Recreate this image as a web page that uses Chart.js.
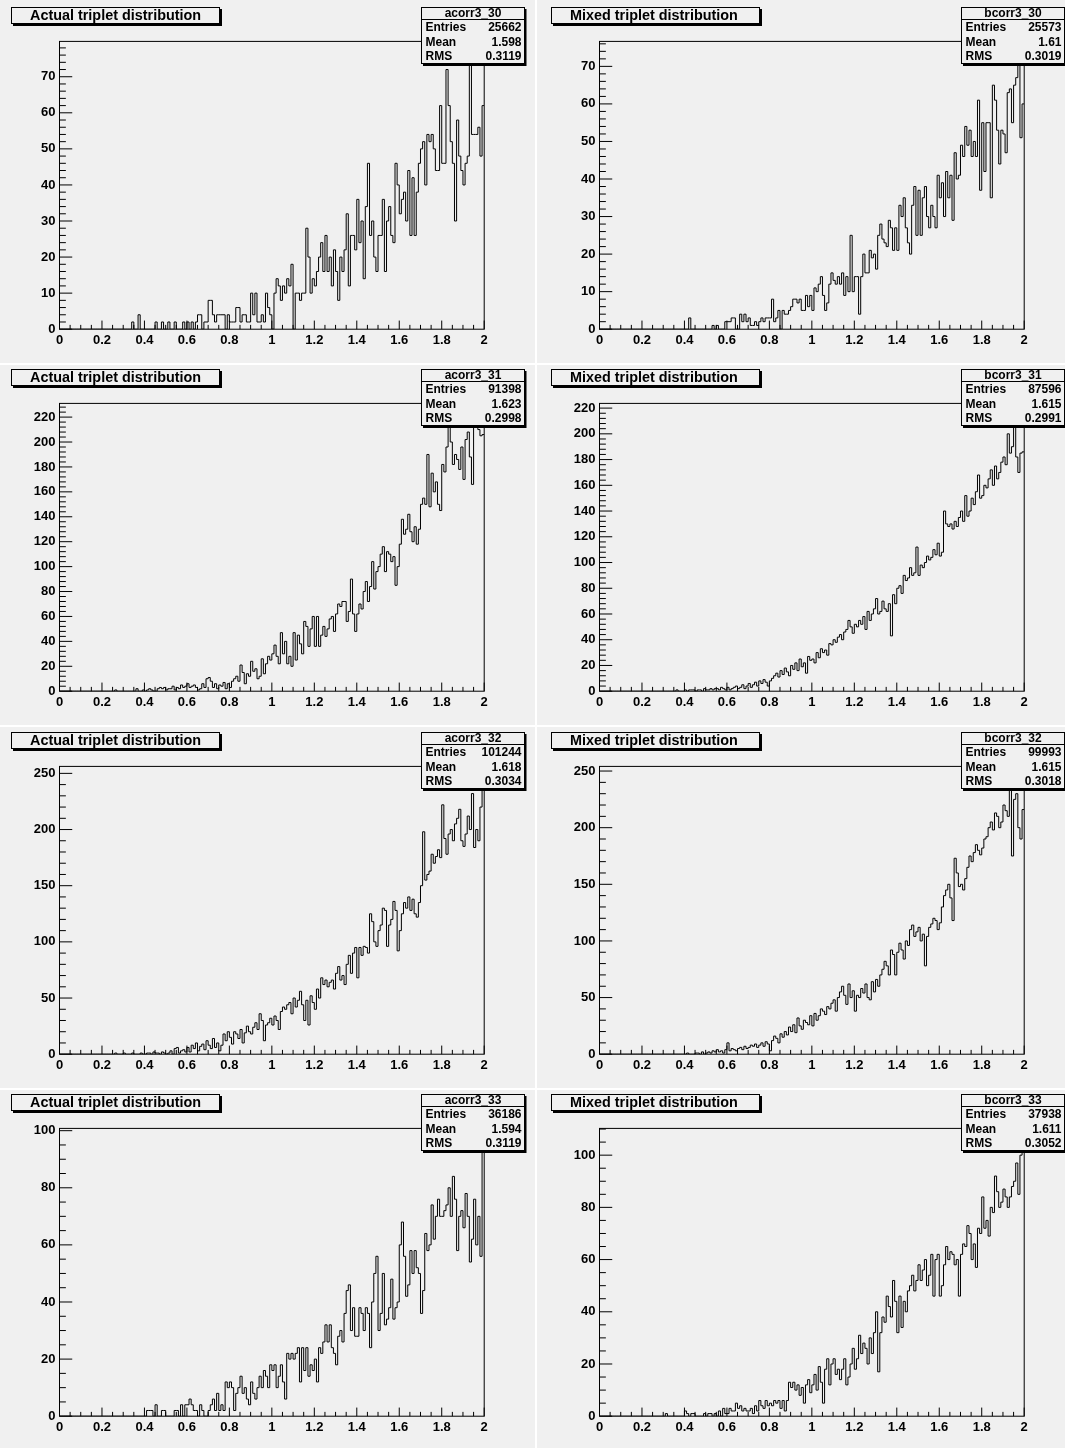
<!DOCTYPE html>
<html><head><meta charset="utf-8">
<script src="https://cdn.jsdelivr.net/npm/chart.js@4.4.1/dist/chart.umd.min.js"></script>
<style>
html,body{margin:0;padding:0;background:#fff;}
#page{position:relative;width:1065px;height:1448px;overflow:hidden;background:#fff;}
.pad{position:absolute;background:#f0f0f0;}
canvas{position:absolute;}
</style></head><body><div id="page"></div>
<script>
// ---------------- DATA (200 bins of width 0.01 on [0,2]) ----------------
const acorr3_30 = [
0,0,0,0,0,0,0,0,0,0,0,0,0,0,0,0,0,0,0,0,
0,0,0,0,0,0,0,0,0,0,0,0,0,0,2,0,0,4,0,0,
0,0,0,0,0,2,0,0,2,0,0,2,0,0,2,0,0,0,2,0,
2,0,2,0,2,4,4,0,2,2,8,8,4,2,4,4,4,4,0,4,
2,2,2,6,6,2,4,4,2,2,10,4,10,2,2,4,2,10,6,4,
0,10,14,12,8,12,10,14,12,18,0,10,10,8,10,10,28,20,10,14,
12,16,20,24,16,26,16,20,12,22,16,8,20,16,22,32,12,26,26,22,
36,24,30,14,34,46,26,30,20,16,26,26,36,16,30,34,26,24,46,40,
32,36,38,30,44,26,42,26,38,46,50,52,40,54,52,54,50,44,44,62,
46,46,72,62,52,46,30,58,48,44,40,46,48,76,54,54,54,56,48,62];
const bcorr3_30 = [
0,0,0,0,0,0,0,0,0,0,0,0,0,0,0,0,0,0,0,0,
0,0,0,0,0,0,0,0,0,0,0,0,0,0,0,0,0,0,0,0,
0,0,3,0,0,0,0,0,0,0,0,0,0,1,0,1,0,0,0,2,
2,2,3,3,0,0,4,2,4,2,3,1,1,2,1,2,3,2,3,3,
3,8,2,3,5,0,5,4,4,5,6,8,8,7,8,5,5,9,6,9,
5,11,10,12,14,9,5,7,12,15,13,12,14,12,15,9,14,10,25,10,
14,14,4,14,20,15,15,21,19,20,16,25,28,24,23,22,29,27,21,27,
21,33,30,35,27,23,20,33,38,25,37,25,35,38,30,27,33,30,27,41,
35,39,30,42,35,41,29,47,40,41,49,46,54,49,53,46,50,46,61,37,
55,42,55,55,35,65,61,53,44,53,52,47,63,64,55,65,67,73,51,60];
const acorr3_31 = [
0,0,0,0,0,0,0,0,0,0,0,0,0,0,0,0,0,0,0,0,
0,0,0,0,0,0,1,0,0,0,0,0,0,0,0,0,2,0,0,1,
0,1,2,1,0,0,2,3,2,3,1,2,2,4,1,3,2,5,3,4,
6,3,4,5,3,1,2,6,3,10,11,8,3,6,2,5,4,7,2,6,
3,8,10,12,8,21,15,6,14,12,24,16,18,10,12,26,14,22,28,25,
30,37,28,22,47,30,40,22,28,20,47,25,45,38,30,56,52,36,50,60,
36,60,36,45,52,44,50,58,60,48,62,70,68,72,72,56,64,90,62,48,
62,70,66,80,88,72,84,104,82,96,100,110,116,96,112,110,104,108,85,100,
118,138,126,130,142,128,120,132,118,130,150,155,150,190,148,175,160,168,150,145,
182,176,196,212,200,182,190,186,178,196,170,202,208,188,166,214,220,210,205,206];
const bcorr3_31 = [
0,0,0,0,0,0,0,0,0,0,0,0,0,0,0,0,0,0,0,0,
0,0,0,0,0,0,0,0,0,0,0,0,0,0,0,0,1,0,0,0,
1,0,1,1,1,0,1,1,0,2,1,1,2,1,2,2,1,3,2,1,
3,1,2,3,4,2,3,5,2,4,6,3,5,7,4,8,6,9,7,4,
8,10,12,14,11,16,13,18,15,12,20,17,22,16,25,19,22,14,27,24,
25,22,30,26,33,30,32,28,37,36,40,38,42,44,40,46,48,55,50,45,
52,50,55,52,58,48,62,55,60,64,72,60,62,70,64,62,68,43,75,68,
80,82,76,90,86,88,96,90,92,112,90,98,96,100,105,102,104,110,106,115,
105,108,140,130,128,130,126,132,128,135,140,132,152,136,140,150,145,155,168,150,
152,160,158,165,172,160,175,165,170,178,182,176,200,185,190,213,182,170,185,186];
const acorr3_32 = [
0,0,0,0,0,0,0,0,0,0,0,0,0,0,0,0,0,0,0,0,
0,0,0,0,0,0,1,0,0,0,1,0,0,0,1,0,0,0,1,0,
0,1,1,0,2,1,1,0,2,1,0,1,3,0,5,6,1,3,4,2,
6,2,8,5,10,3,7,9,4,12,8,5,14,6,10,3,8,18,12,20,
15,9,20,18,14,22,10,19,25,20,18,24,28,22,36,30,12,26,28,32,
26,34,30,22,38,42,40,44,46,36,50,42,48,56,44,30,48,26,52,46,
40,58,50,68,62,66,60,64,66,58,72,78,66,70,62,80,88,72,90,95,
68,95,88,96,95,90,125,118,100,96,110,115,130,128,96,115,120,136,128,92,
110,125,135,130,140,128,138,125,122,135,150,198,155,160,163,178,170,176,182,175,
222,192,178,196,200,190,205,210,218,190,185,196,212,200,232,184,200,190,220,244];
const bcorr3_32 = [
0,0,0,0,0,0,0,0,0,0,0,0,0,0,0,0,0,0,0,0,
0,0,0,0,0,0,0,0,0,0,0,0,0,0,0,0,0,0,0,0,
0,1,0,0,0,1,1,0,2,0,1,2,1,3,2,4,2,3,1,4,
10,3,5,4,3,5,6,4,7,5,6,8,7,9,6,8,10,7,11,9,
3,12,16,14,10,18,15,20,17,24,20,26,19,32,25,22,30,28,26,34,
25,36,30,34,40,38,35,42,40,45,48,38,50,55,60,52,44,62,50,56,
38,52,50,58,54,62,50,48,64,55,66,60,70,75,82,78,70,92,88,70,
90,98,92,84,100,96,110,114,104,108,112,100,106,78,104,112,115,120,118,110,
116,130,140,145,150,138,118,173,160,148,150,145,155,165,175,170,178,185,180,176,
182,190,192,200,205,198,213,210,200,205,220,215,210,242,175,225,230,200,190,216];
const acorr3_33 = [
0,0,0,0,0,0,0,0,0,0,0,0,0,0,0,0,0,0,0,0,
0,0,0,0,0,0,0,0,0,0,0,0,0,0,0,0,0,0,0,0,
0,2,2,2,0,4,0,0,2,2,0,0,0,0,2,2,0,4,0,4,
4,6,4,2,2,0,4,2,0,0,2,4,6,2,8,2,4,2,12,10,
12,10,2,8,10,14,8,10,6,4,12,8,6,10,14,10,16,14,10,18,
16,18,10,14,18,12,6,22,20,22,20,22,24,12,24,16,24,14,18,16,
20,12,24,22,26,32,26,32,24,22,18,28,30,26,36,44,46,30,38,28,
28,38,36,30,38,36,24,40,50,56,30,36,50,32,34,38,48,34,38,40,
60,68,56,42,46,58,50,58,52,50,36,44,64,58,60,74,62,70,76,70,
70,72,74,80,70,84,76,58,70,72,66,78,70,54,62,76,60,70,56,96];
const bcorr3_33 = [
0,0,0,0,0,0,0,0,0,0,0,0,0,0,0,0,0,0,0,0,
0,0,0,0,0,0,0,0,0,0,0,1,0,0,0,0,0,0,0,0,
2,1,0,1,1,0,0,0,0,1,0,1,1,0,1,0,2,0,3,1,
1,3,2,2,5,3,4,2,3,2,2,3,1,4,2,6,4,3,6,4,
5,4,6,5,6,3,6,2,6,13,11,13,10,12,8,11,5,12,14,9,
12,16,10,19,13,5,18,22,12,20,22,16,18,14,18,22,12,15,20,26,
18,22,31,24,28,26,20,30,24,32,40,17,32,38,36,46,42,38,52,44,
32,46,34,44,40,48,50,54,48,52,58,52,56,60,50,54,62,46,60,62,
46,50,58,65,60,63,62,58,60,46,62,66,65,73,70,60,66,57,72,70,
84,72,75,69,80,78,92,86,80,82,87,84,80,84,88,90,97,85,100,105];

const histNames  = ['acorr3_30','bcorr3_30','acorr3_31','bcorr3_31','acorr3_32','bcorr3_32','acorr3_33','bcorr3_33'];
const histTitles = ['Actual triplet distribution','Mixed triplet distribution','Actual triplet distribution','Mixed triplet distribution',
                    'Actual triplet distribution','Mixed triplet distribution','Actual triplet distribution','Mixed triplet distribution'];
const statEntries = ['25662','25573','91398','87596','101244','99993','36186','37938'];
const statMeans   = ['1.598','1.61','1.623','1.615','1.618','1.615','1.594','1.611'];
const statRMS     = ['0.3119','0.3019','0.2998','0.2991','0.3034','0.3018','0.3119','0.3052'];

const xTickValues = [0,0.2,0.4,0.6,0.8,1,1.2,1.4,1.6,1.8,2];
const xTickLabels = ['0','0.2','0.4','0.6','0.8','1','1.2','1.4','1.6','1.8','2'];
const yTicks30 = [0,10,20,30,40,50,60,70];
const yTicks31 = [0,20,40,60,80,100,120,140,160,180,200,220];
const yTicks32 = [0,50,100,150,200,250];
const yTicks33 = [0,20,40,60,80,100];
const yTickSets   = [yTicks30,yTicks30,yTicks31,yTicks31,yTicks32,yTicks32,yTicks33,yTicks33];
const yMinorSteps = [2,2,4,4,10,10,5,5];
const xLow = 0, xHigh = 2, nBins = 200, xMinorStep = 0.05, xMinorPerMajor = 4;
const series = [acorr3_30,bcorr3_30,acorr3_31,bcorr3_31,acorr3_32,bcorr3_32,acorr3_33,bcorr3_33];

// ---------------- LAYOUT / STYLE ----------------
const FONT = '"Liberation Sans", Arial, Helvetica, sans-serif';
const PAD_BG = '#f0f0f0';
const colX = [0, 540];
const rowY = [0, 362, 725, 1087];
const canvasW = [534, 525];
const canvasH = 362;
const FR = {left: 59.5, right: 484.2, top: 41.4, bottom: 329.2};
const padCols = [[0, 535], [537, 528]];
const padRows = [[0, 363], [365, 360], [727, 361], [1090, 358]];

const page = document.getElementById('page');
padRows.forEach(r => padCols.forEach(c => {
  const d = document.createElement('div');
  d.className = 'pad';
  d.style.left = c[0] + 'px'; d.style.top = r[0] + 'px';
  d.style.width = c[1] + 'px'; d.style.height = r[1] + 'px';
  page.appendChild(d);
}));

const rootStyle = {
  id: 'rootStyle',
  afterDraw(chart, args, opts) {
    const p = opts.index;
    const ctx = chart.ctx, a = chart.chartArea, xs = chart.scales.x, ys = chart.scales.y;
    const w = a.right - a.left, h = a.bottom - a.top;
    ctx.save();
    ctx.strokeStyle = '#000'; ctx.lineWidth = 1;
    // tick marks (inside the frame, ROOT style)
    const xMaj = 0.03 * h, yMaj = 0.03 * w;
    ctx.beginPath();
    const nx = Math.round((xHigh - xLow) / xMinorStep);
    for (let k = 0; k <= nx; k++) {
      const px = xs.getPixelForValue(xLow + k * xMinorStep);
      const len = (k % xMinorPerMajor === 0) ? xMaj : xMaj / 2;
      ctx.moveTo(px, a.bottom); ctx.lineTo(px, a.bottom - len);
    }
    const ys0 = yMinorSteps[p];
    const yPer = Math.round((yTickSets[p][1] - yTickSets[p][0]) / ys0);
    for (let k = 0; k * ys0 <= ys.max; k++) {
      const py = ys.getPixelForValue(k * ys0);
      const len = (k % yPer === 0) ? yMaj : yMaj / 2;
      ctx.moveTo(a.left, py); ctx.lineTo(a.left + len, py);
    }
    ctx.stroke();
    // frame
    ctx.strokeRect(a.left, a.top, w, h);

    // title box
    ctx.fillStyle = '#000';
    ctx.fillRect(13, 9, 209, 17);
    ctx.fillStyle = PAD_BG;
    ctx.fillRect(11.5, 7.5, 208, 16);
    ctx.strokeRect(11.5, 7.5, 208, 16);
    ctx.fillStyle = '#000';
    ctx.font = 'bold 14.4px ' + FONT;
    ctx.textBaseline = 'middle'; ctx.textAlign = 'left';
    ctx.fillText(histTitles[p], 30, 16);

    // stats box
    ctx.fillStyle = '#000';
    ctx.fillRect(423, 9, 103.5, 57);
    ctx.fillStyle = PAD_BG;
    ctx.fillRect(421.5, 7.5, 103, 56);
    ctx.strokeRect(421.5, 7.5, 103, 56);
    ctx.beginPath(); ctx.moveTo(421.5, 19.5); ctx.lineTo(524.5, 19.5); ctx.stroke();
    ctx.fillStyle = '#000';
    ctx.font = 'bold 12px ' + FONT;
    ctx.textAlign = 'center';
    ctx.fillText(histNames[p], 473, 13.5);
    const rowsY = [28, 42.5, 57];
    const labs = ['Entries', 'Mean', 'RMS'];
    const vals = [statEntries[p], statMeans[p], statRMS[p]];
    for (let i = 0; i < 3; i++) {
      ctx.textAlign = 'left'; ctx.fillText(labs[i], 425.5, rowsY[i]);
      ctx.textAlign = 'right'; ctx.fillText(vals[i], 521.5, rowsY[i]);
    }
    ctx.restore();
  }
};

Chart.defaults.color = '#000';
Chart.defaults.font.family = FONT;

for (let p = 0; p < 8; p++) {
  const r = Math.floor(p / 2), c = p % 2;
  const cv = document.createElement('canvas');
  cv.width = canvasW[c]; cv.height = canvasH;
  cv.style.width = canvasW[c] + 'px'; cv.style.height = canvasH + 'px';
  cv.style.left = colX[c] + 'px'; cv.style.top = rowY[r] + 'px';
  page.appendChild(cv);

  const vals = series[p];
  const bw = (xHigh - xLow) / nBins;
  const pts = vals.map((v, i) => ({x: xLow + i * bw, y: v}));
  pts.push({x: xHigh, y: vals[vals.length - 1]});
  const ymax = Math.max(...vals) * 1.05;
  const tickFont = {family: FONT, size: 13, weight: 'bold'};

  new Chart(cv, {
    type: 'line',
    data: {datasets: [{data: pts, borderColor: '#000', borderWidth: 1, pointRadius: 0,
      stepped: 'before', fill: false, tension: 0, borderJoinStyle: 'miter'}]},
    options: {
      responsive: false, animation: false, devicePixelRatio: 1,
      layout: {padding: {left: 0, top: FR.top, right: canvasW[c] - FR.right, bottom: 0}},
      plugins: {legend: {display: false}, tooltip: {enabled: false}, title: {display: false},
        rootStyle: {index: p}},
      scales: {
        x: {type: 'linear', min: xLow, max: xHigh, bounds: 'data',
          afterBuildTicks: s => { s.ticks = xTickValues.map(v => ({value: v})); },
          afterFit: s => { s.height = canvasH - FR.bottom; },
          ticks: {font: tickFont, color: '#000', padding: 3, autoSkip: false, maxRotation: 0, minRotation: 0,
            callback: (v, i) => xTickLabels[i]},
          grid: {display: false, drawTicks: false}, border: {display: false}},
        y: {type: 'linear', min: 0, max: ymax, bounds: 'data',
          afterBuildTicks: s => { s.ticks = yTickSets[p].map(v => ({value: v})); },
          afterFit: s => { s.width = FR.left; },
          ticks: {font: tickFont, color: '#000', padding: 4, autoSkip: false,
            callback: v => String(v)},
          grid: {display: false, drawTicks: false}, border: {display: false}}
      }
    },
    plugins: [rootStyle]
  });
}
</script></body></html>
